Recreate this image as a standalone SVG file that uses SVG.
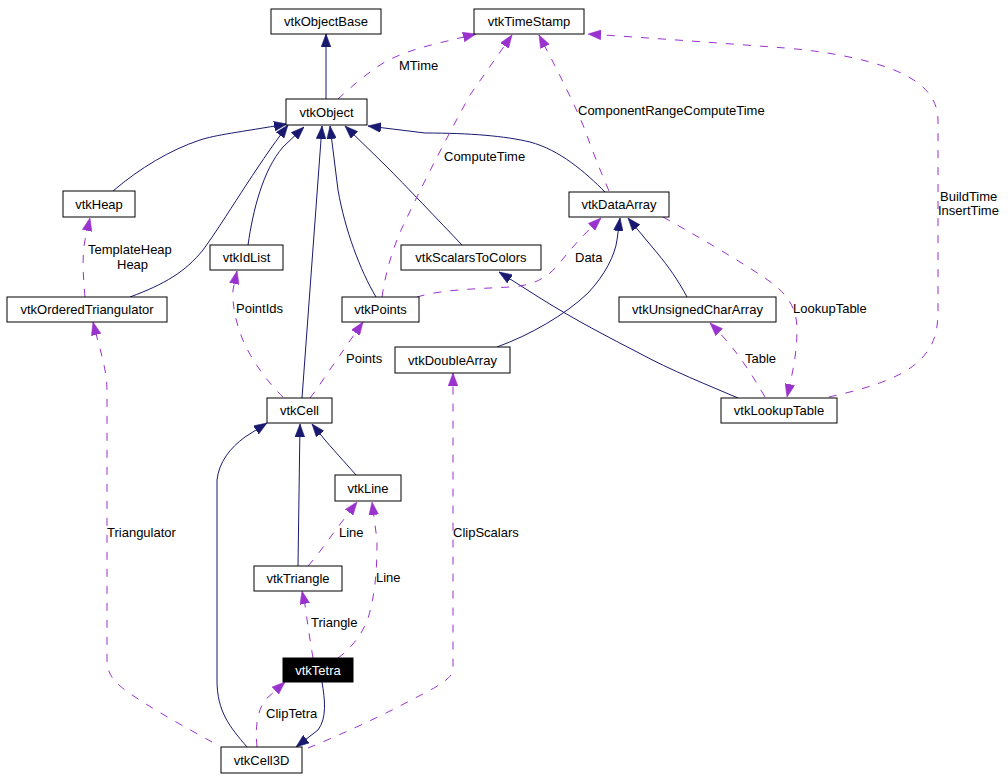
<svg xmlns="http://www.w3.org/2000/svg" width="1008" height="780" viewBox="0 0 1008 780">
<style>
.node rect{fill:#fff;stroke:#000;stroke-width:1}
.node text,.lbl{font-family:"Liberation Sans",Arial,sans-serif;font-size:13px;fill:#000}
.node text{text-anchor:middle}
.inh{fill:none;stroke:#191970;stroke-width:1}
.use{fill:none;stroke:#9a32cd;stroke-width:1;stroke-dasharray:8,9}
</style>
<defs>
<marker id="an" markerUnits="userSpaceOnUse" markerWidth="13" markerHeight="10" viewBox="0 0 12 9" refX="12" refY="4.5" orient="auto">
<path d="M0,0 L12,4.5 L0,9 z" fill="#191970" stroke="#191970" stroke-width="0.5"/>
</marker>
<marker id="ap" markerUnits="userSpaceOnUse" markerWidth="13" markerHeight="10" viewBox="0 0 12 9" refX="12" refY="4.5" orient="auto">
<path d="M0,0 L12,4.5 L0,9 z" fill="#9a32cd" stroke="#9a32cd" stroke-width="0.5"/>
</marker>
</defs>
<rect width="1008" height="780" fill="#fff"/>
<g id="edges">
<path class="inh" marker-end="url(#an)" d="M326,99 L326,34"/>
<path class="inh" marker-end="url(#an)" d="M113,191 C140,168 170,150 200,140 C215,135 240,132 287,124"/>
<path class="inh" marker-end="url(#an)" d="M130,297 C165,284 185,272 203,250 C225,220 255,168 288,125"/>
<path class="inh" marker-end="url(#an)" d="M248,245 C253,210 263,170 283,147 L304,127"/>
<path class="inh" marker-end="url(#an)" d="M302,398 L322,126"/>
<path class="inh" marker-end="url(#an)" d="M376,297 C360,270 345,230 338,190 L330,126"/>
<path class="inh" marker-end="url(#an)" d="M462,245 C440,222 405,185 385,165 L345,126"/>
<path class="inh" marker-end="url(#an)" d="M605,192 C585,172 560,150 530,142 C505,136 470,133 425,133 L368,126"/>
<path class="inh" marker-end="url(#an)" d="M497,347 C530,335 565,315 588,293 C605,275 615,255 617,240 L620,218"/>
<path class="inh" marker-end="url(#an)" d="M687,297 C678,280 668,266 658,254 L628,218"/>
<path class="inh" marker-end="url(#an)" d="M738,398 C710,386 670,370 639,353 C610,338 575,320 540,298 L499,272"/>
<path class="inh" marker-end="url(#an)" d="M356,475 C350,468 338,455 325,440 L312,424"/>
<path class="inh" marker-end="url(#an)" d="M298,566 L300,424"/>
<path class="inh" marker-end="url(#an)" d="M247,747 C230,727 217,712 217,680 L217,480 C219,462 230,448 245,437 L267,423"/>
<path class="inh" marker-end="url(#an)" d="M322,682 C325,700 327,718 318,730 L296,747"/>
<path class="use" marker-end="url(#ap)" d="M338,99 C350,88 368,72 385,62 C400,54 415,49 435,44 L476,34"/>
<path class="use" marker-end="url(#ap)" d="M382,297 C385,275 392,250 402,228 C420,190 440,150 470,95 L512,35"/>
<path class="use" marker-end="url(#ap)" d="M609,191 C600,170 592,150 585,130 C575,105 562,80 552,60 L539,35"/>
<path class="use" marker-end="url(#ap)" d="M829,397 C860,390 900,380 920,360 C935,345 938,330 938,310 L938,120 C938,100 925,85 905,75 C880,62 835,52 785,48 C720,43 650,38 588,34"/>
<path class="use" marker-end="url(#ap)" d="M417,297 C440,290 470,289 510,287 C530,286 545,280 558,265 C570,250 580,238 601,218"/>
<path class="use" marker-end="url(#ap)" d="M663,217 C690,232 735,258 765,278 C785,292 797,305 797,330 C797,355 792,375 787,397"/>
<path class="use" marker-end="url(#ap)" d="M765,397 C758,385 752,375 745,365 C735,350 725,338 710,323"/>
<path class="use" marker-end="url(#ap)" d="M85,297 C83,275 82,255 85,240 L90,218"/>
<path class="use" marker-end="url(#ap)" d="M283,397 C270,385 255,365 245,345 C236,325 232,305 233,290 L237,271"/>
<path class="use" marker-end="url(#ap)" d="M310,398 C318,388 328,372 338,358 L363,322"/>
<path class="use" marker-end="url(#ap)" d="M313,658 C310,640 307,620 305,605 L302,591"/>
<path class="use" marker-end="url(#ap)" d="M308,566 C318,555 328,540 338,527 L357,502"/>
<path class="use" marker-end="url(#ap)" d="M338,658 C352,648 364,632 369,615 C376,590 377,565 377,540 L372,502"/>
<path class="use" marker-end="url(#ap)" d="M257,747 C255,728 257,712 265,700 L285,682"/>
<path class="use" marker-end="url(#ap)" d="M308,748 C340,735 380,717 417,697 C435,688 453,678 453,670 L453,373"/>
<path class="use" marker-end="url(#ap)" d="M212,742 C185,727 150,708 125,690 C112,680 107,672 107,660 L107,390 C107,370 100,350 93,322"/>
<text class="lbl" x="399" y="70">MTime</text>
<text class="lbl" x="444" y="161">ComputeTime</text>
<text class="lbl" x="578" y="115">ComponentRangeComputeTime</text>
<text class="lbl" x="940" y="201">BuildTime</text>
<text class="lbl" x="938" y="215">InsertTime</text>
<text class="lbl" x="575" y="262">Data</text>
<text class="lbl" x="793" y="313">LookupTable</text>
<text class="lbl" x="745" y="363">Table</text>
<text class="lbl" x="88" y="254">TemplateHeap</text>
<text class="lbl" x="117" y="269">Heap</text>
<text class="lbl" x="236" y="313">PointIds</text>
<text class="lbl" x="346" y="363">Points</text>
<text class="lbl" x="107" y="537">Triangulator</text>
<text class="lbl" x="453" y="537">ClipScalars</text>
<text class="lbl" x="339" y="537">Line</text>
<text class="lbl" x="376" y="582">Line</text>
<text class="lbl" x="311" y="627">Triangle</text>
<text class="lbl" x="266" y="718">ClipTetra</text>
</g>
<g id="vtkObjectBase" class="node"><rect x="271" y="9" width="110" height="25"/><text x="326" y="26">vtkObjectBase</text></g>
<g id="vtkTimeStamp" class="node"><rect x="474" y="9" width="110" height="25"/><text x="529" y="26">vtkTimeStamp</text></g>
<g id="vtkObject" class="node"><rect x="286" y="99" width="81" height="26"/><text x="326.5" y="117">vtkObject</text></g>
<g id="vtkHeap" class="node"><rect x="63" y="191" width="72" height="26"/><text x="99" y="209">vtkHeap</text></g>
<g id="vtkDataArray" class="node"><rect x="569" y="192" width="100" height="25"/><text x="619" y="209">vtkDataArray</text></g>
<g id="vtkIdList" class="node"><rect x="210" y="245" width="73" height="25"/><text x="246.5" y="262">vtkIdList</text></g>
<g id="vtkScalarsToColors" class="node"><rect x="401" y="245" width="140" height="25"/><text x="471" y="262">vtkScalarsToColors</text></g>
<g id="vtkOrderedTriangulator" class="node"><rect x="7" y="297" width="160" height="25"/><text x="87" y="314">vtkOrderedTriangulator</text></g>
<g id="vtkPoints" class="node"><rect x="342" y="297" width="77" height="25"/><text x="380.5" y="314">vtkPoints</text></g>
<g id="vtkUnsignedCharArray" class="node"><rect x="619" y="297" width="157" height="25"/><text x="697.5" y="314">vtkUnsignedCharArray</text></g>
<g id="vtkDoubleArray" class="node"><rect x="395" y="347" width="115" height="26"/><text x="452.5" y="365">vtkDoubleArray</text></g>
<g id="vtkCell" class="node"><rect x="267" y="398" width="65" height="25"/><text x="299.5" y="415">vtkCell</text></g>
<g id="vtkLookupTable" class="node"><rect x="721" y="398" width="116" height="25"/><text x="779" y="415">vtkLookupTable</text></g>
<g id="vtkLine" class="node"><rect x="335" y="475" width="66" height="26"/><text x="368" y="493">vtkLine</text></g>
<g id="vtkTriangle" class="node"><rect x="254" y="566" width="88" height="25"/><text x="298" y="583">vtkTriangle</text></g>
<g id="vtkTetra" class="node"><rect x="283" y="658" width="70" height="24" style="fill:#000"/><text x="318" y="675" style="fill:#fff">vtkTetra</text></g>
<g id="vtkCell3D" class="node"><rect x="221" y="747" width="81" height="26"/><text x="261.5" y="765">vtkCell3D</text></g>
</svg>
